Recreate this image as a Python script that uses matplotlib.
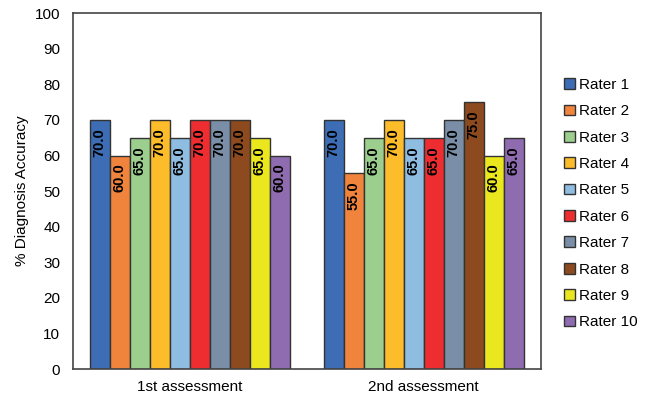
import matplotlib
matplotlib.use("Agg")
import matplotlib.pyplot as plt
import numpy as np
from matplotlib.patches import Patch

plt.rcParams['font.family'] = ['Liberation Sans', 'DejaVu Sans']

categories = ["1st assessment", "2nd assessment"]
raters = [f"Rater {i}" for i in range(1, 11)]
values = [
    [70.0, 70.0],
    [60.0, 55.0],
    [65.0, 65.0],
    [70.0, 70.0],
    [65.0, 65.0],
    [70.0, 65.0],
    [70.0, 70.0],
    [70.0, 75.0],
    [65.0, 60.0],
    [60.0, 65.0],
]
colors = ["#3D6DB5", "#F0843C", "#9CCF8E", "#FDBD2A", "#8FBDE2",
          "#EE2D31", "#7A8FA7", "#8E4A1F", "#EBE71F", "#8F6CB0"]

fig = plt.figure(figsize=(6.5, 3.99), dpi=100)
ax = fig.add_axes([0.112, 0.075, 0.72, 0.892])

n = len(raters)
group_w = 0.855
w = group_w / n
x = np.arange(len(categories))
for i in range(n):
    pos = x - group_w / 2 + w * (i + 0.5)
    bars = ax.bar(pos, values[i], width=w, color=colors[i],
                  edgecolor="#333333", linewidth=1.0, label=raters[i])
    for b, v in zip(bars, values[i]):
        ax.text(b.get_x() + b.get_width() / 2, v - 2.3, f"{v:.1f}",
                rotation=90, ha="center", va="top", fontsize=10.5,
                fontweight="bold", color="black")

ax.set_xlim(-0.5, 1.5)
ax.set_ylim(0, 100)
ax.set_yticks(np.arange(0, 101, 10))
ax.set_xticks(x)
ax.set_xticklabels(categories, fontsize=11)
ax.tick_params(axis="y", length=0, labelsize=11, pad=9)
ax.tick_params(axis="x", length=0, labelsize=11, pad=8)
ax.set_ylabel("% Diagnosis Accuracy", fontsize=11, labelpad=4)
for s in ax.spines.values():
    s.set_color("#444444")
    s.set_linewidth(1.2)

handles = [Patch(facecolor=c, edgecolor="#333333", linewidth=1.0) for c in colors]
fig.legend(handles, raters, loc="upper left", bbox_to_anchor=(0.858, 0.82),
           frameon=False, fontsize=11, handlelength=0.7, handleheight=0.7,
           handletextpad=0.3, labelspacing=0.81, borderaxespad=0)

fig.savefig("out.png", dpi=100)
